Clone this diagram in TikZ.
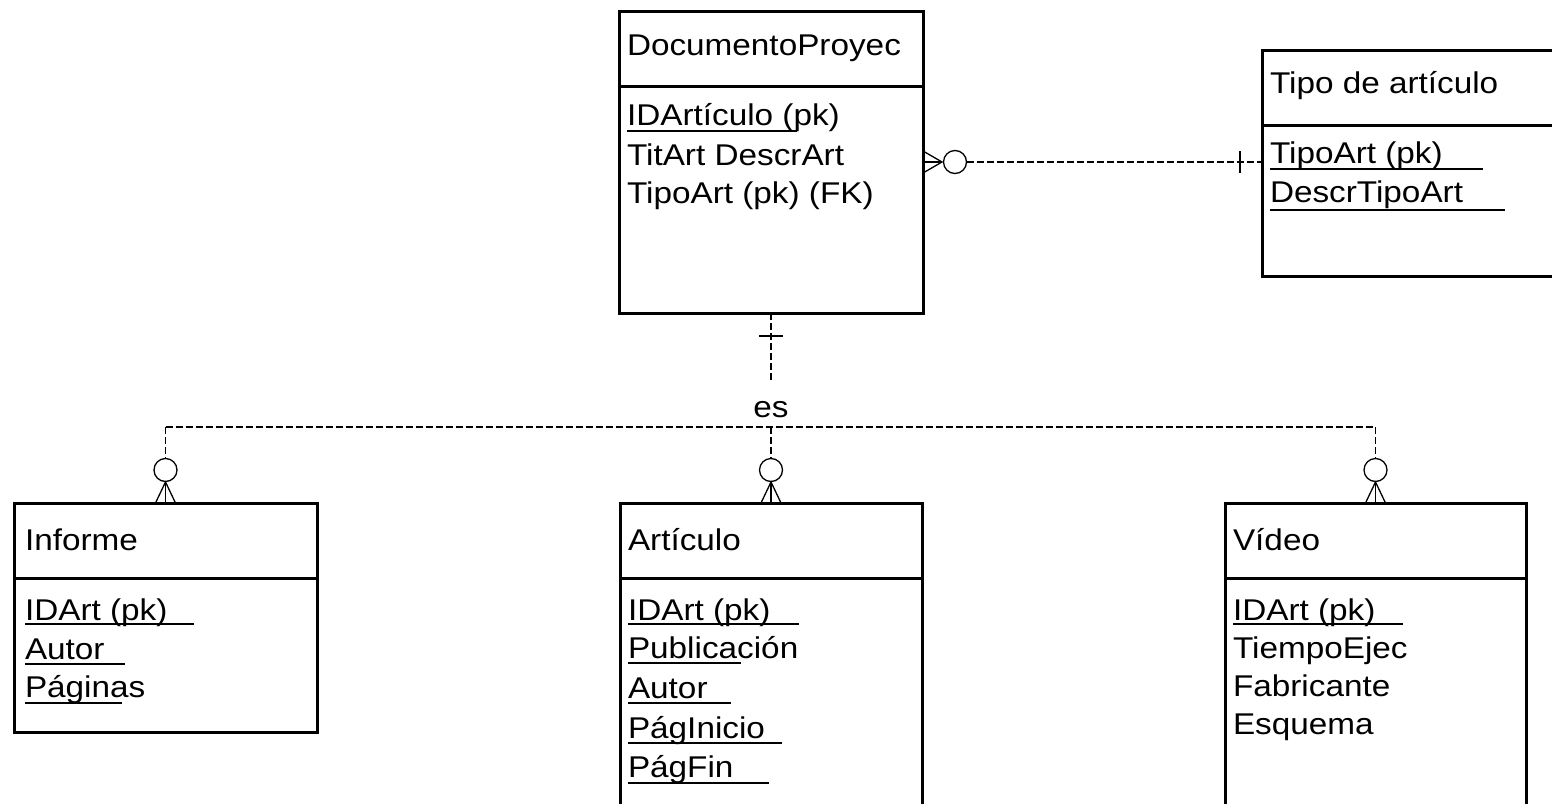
\documentclass[tikz,border=0pt]{standalone}
\usepackage{fontspec}
\setmainfont{Liberation Sans}[FakeStretch=1.11]
\begin{document}
\begin{tikzpicture}[x=1pt,y=-1pt,
  entity/.style={draw, line width=3pt, rectangle, inner sep=0pt, outer sep=0pt, anchor=north west},
  divider/.style={line width=3pt},
  txt/.style={anchor=base west, inner sep=0pt, outer sep=0pt, font=\fontsize{30}{36}\selectfont},
  key/.style={line width=1.8pt},
  rel/.style={line width=1.1pt, dash pattern=on 7pt off 3pt},
  foot/.style={line width=1.3pt},
  ring/.style={draw, circle, line width=1.3pt, minimum size=23pt, inner sep=0pt, outer sep=0pt, fill=white}]

\useasboundingbox (0,0) rectangle (1552,803);
\clip (0,0) rectangle (1552,803);

% ---------- entities ----------
\node[entity, minimum width=304pt, minimum height=302pt] (doc)  at (619,11)  {};
\node[entity, minimum width=303pt, minimum height=226pt] (tipo) at (1262,50) {};
\node[entity, minimum width=303pt, minimum height=229pt] (inf)  at (14,503)  {};
\node[entity, minimum width=302pt, minimum height=327pt] (art)  at (620,503) {};
\node[entity, minimum width=301pt, minimum height=327pt] (vid)  at (1225,503) {};

% header dividers
\foreach \e in {doc,tipo,inf,art,vid}
  \draw[divider] ([yshift=-75pt]\e.north west) -- ([yshift=-75pt]\e.north east);

% ---------- DocumentoProyec ----------
\node[txt] (docT)  at (627,55)  {DocumentoProyec};
\node[txt] (docA1) at (627,125) {IDArtículo (pk)};
\node[txt] (docA2) at (627,165) {TitArt DescrArt};
\node[txt] (docA3) at (627,203) {TipoArt (pk) (FK)};
\draw[line width=1.3pt] (627,131) -- (797,131);

% ---------- Tipo de artículo ----------
\node[txt] (tipoT)  at (1270,93)  {Tipo de artículo};
\node[txt] (tipoA1) at (1270,163) {TipoArt (pk)};
\node[txt] (tipoA2) at (1270,202) {DescrTipoArt};
\draw[key] (1270,169) -- (1483,169);
\draw[key] (1270,210) -- (1505,210);

% ---------- Informe ----------
\node[txt] (infT)  at (25,550) {Informe};
\node[txt] (infA1) at (25,620) {IDArt (pk)};
\node[txt] (infA2) at (25,659) {Autor};
\node[txt] (infA3) at (25,697) {Páginas};
\draw[key] (25,624) -- (194,624);
\draw[key] (25,664) -- (125,664);
\draw[key] (25,703) -- (122,703);

% ---------- Artículo ----------
\node[txt] (artT)  at (628,550) {Artículo};
\node[txt] (artA1) at (628,620) {IDArt (pk)};
\node[txt] (artA2) at (628,658) {Publicación};
\node[txt] (artA3) at (628,698) {Autor};
\node[txt] (artA4) at (628,738) {PágInicio};
\node[txt] (artA5) at (628,777) {PágFin};
\draw[key] (628,624) -- (799,624);
\draw[key] (628,663) -- (741,663);
\draw[key] (628,703) -- (731,703);
\draw[key] (628,743) -- (782,743);
\draw[key] (628,783) -- (769,783);

% ---------- Vídeo ----------
\node[txt] (vidT)  at (1233,550) {Vídeo};
\node[txt] (vidA1) at (1233,620) {IDArt (pk)};
\node[txt] (vidA2) at (1233,658) {TiempoEjec};
\node[txt] (vidA3) at (1233,696) {Fabricante};
\node[txt] (vidA4) at (1233,734) {Esquema};
\draw[key] (1233,624) -- (1403,624);

% ---------- DocumentoProyec >o----|- Tipo de artículo ----------
\coordinate (tipoIn) at (doc.east -| tipo.west);
\draw[foot] ([shift={(0,-11)}]doc.east) -- ([shift={(19,0)}]doc.east) -- ([shift={(0,11)}]doc.east);
\draw[foot] (doc.east) -- ([shift={(19,0)}]doc.east);
\node[ring] (ringT) at ([shift={(32,0)}]doc.east) {};
\draw[rel] (ringT.east) -- (tipoIn);
\draw[foot] ([shift={(-22,-11)}]tipoIn) -- ([shift={(-22,11)}]tipoIn);

% ---------- subtype relation "es" ----------
\coordinate (esTop) at (doc.south |- 0,383);
\coordinate (bus)   at (doc.south |- 0,427);
\draw[rel] (doc.south) -- (esTop);
\draw[foot] ([shift={(-12,23)}]doc.south) -- ([shift={(12,23)}]doc.south);
\node[anchor=base, inner sep=0pt, font=\fontsize{30}{36}\selectfont] (es) at (doc.south |- 0,417) {es};
\draw[rel] (inf.north |- bus) -- (vid.north |- bus);

\foreach \c in {inf,art,vid} {
  \node[ring] (ring\c) at ([shift={(0,-33)}]\c.north) {};
  \draw[rel] (\c.north |- bus) -- (ring\c.north);
  \draw[foot] ([shift={(-10,0)}]\c.north) -- ([shift={(0,-21)}]\c.north) -- ([shift={(10,0)}]\c.north);
  \draw[foot] (\c.north) -- ([shift={(0,-21)}]\c.north);
}
\end{tikzpicture}
\end{document}
